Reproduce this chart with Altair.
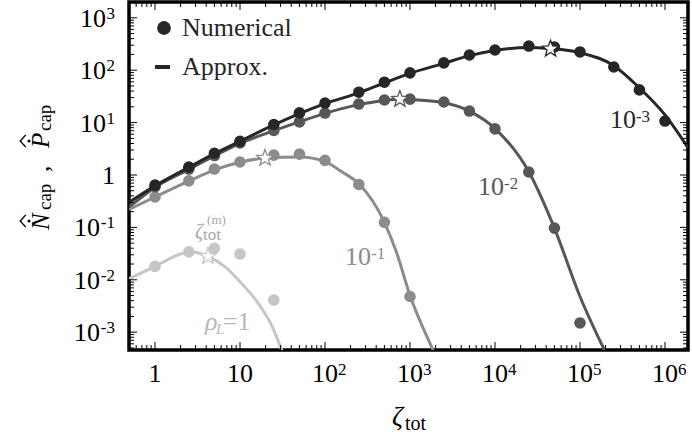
import altair as alt
import pandas as pd

# ---------------- scales / layout ----------------
XMIN, XMAX = 0.4944, 1.865e6
YMIN, YMAX = 4.57e-4, 2002
W, H = 559, 348
FONT = "Liberation Serif"

COL = {"r3": "#262626", "r2": "#575757", "r1": "#8c8c8c", "r0": "#c6c6c6"}
STAR_PATH = ("M0,-1L0.247,-0.34L0.951,-0.309L0.399,0.13L0.588,0.809L0,0.42"
             "L-0.588,0.809L-0.399,0.13L-0.951,-0.309L-0.247,-0.34Z")
HAT_PATH = "M0.45,-1L-0.45,0L0.45,1"

# ---------------- data: numerical points ----------------
x_num = [1, 2.5, 5, 10, 25, 50, 100, 250, 500, 1000, 2500, 5000,
         1e4, 2.5e4, 5e4, 1e5, 2.5e5, 5e5, 1e6]
num_r3 = [0.64, 1.42, 2.6, 4.4, 9.2, 15.3, 23.6, 38, 59, 89, 138, 195,
          243, 289, 277, 223, 115, 42, 10.7]
num_r2 = [0.60, 1.30, 2.35, 4.1, 7.1, 10.3, 15.2, 22.6, 27, 28, 24.7, 16.6,
          7.6, 1.14, 0.097, 0.0015]
num_r1 = [0.38, 0.77, 1.3, 1.77, 2.4, 2.5, 1.9, 0.66, 0.125, 0.0048]
num_r0 = [0.018, 0.034, 0.040, 0.031, 0.0041]

# ---------------- data: approximation curves ----------------
cx_r3 = [0.4944, 1, 2.5, 5, 10, 25, 50, 100, 250, 500, 1000, 2500, 5000,
         1e4, 2.5e4, 4.5e4, 1e5, 2.5e5, 5e5, 1e6, 1.865e6]
cy_r3 = [0.30, 0.62, 1.40, 2.55, 4.4, 9.0, 14.8, 23, 37, 57, 87, 135, 190,
         238, 272, 258, 215, 122, 46, 14, 3.3]
cx_r2 = [0.4944, 1, 2.5, 5, 10, 25, 50, 100, 250, 500, 760, 1000, 2500, 5000,
         1e4, 2.5e4, 5e4, 1e5, 2.1e5]
cy_r2 = [0.245, 0.58, 1.28, 2.3, 4.0, 7.0, 10.3, 15, 22, 26.5, 28, 27.5, 24, 16.6,
         7.7, 1.15, 0.097, 0.0048, 0.00035]
cx_r1 = [0.4944, 1, 2.5, 5, 10, 19.7, 50, 100, 158, 250, 500, 700, 1000, 1870, 2000]
cy_r1 = [0.22, 0.38, 0.76, 1.25, 1.75, 2.1, 2.2, 1.8, 1.15, 0.68, 0.125, 0.032,
         0.005, 0.00045, 0.00035]
cx_r0 = [0.4944, 1, 2, 2.8, 4.2, 6.7, 10, 16.3, 23.8, 31, 34]
cy_r0 = [0.0105, 0.018, 0.031, 0.034, 0.028, 0.0176, 0.0092, 0.0036, 0.0013,
         0.00045, 0.0003]

# ---------------- data: optimum markers (stars) ----------------
star_x = [4.5e4, 760, 19.7, 4.2]
star_y = [255, 28, 2.1, 0.028]
star_s = ["r3", "r2", "r1", "r0"]

# ---------------- tick labels ----------------
xt_vals = [1, 10, 100, 1e3, 1e4, 1e5, 1e6]
xt_base = ["1", "10", "10", "10", "10", "10", "10"]
xt_exp = ["", "", "2", "3", "4", "5", "6"]

yt_pos_vals = [10, 100, 1000]
yt_pos_exp = ["1", "2", "3"]
yt_neg_vals = [1e-3, 1e-2, 1e-1]
yt_neg_exp = ["-3", "-2", "-1"]
yt_one_vals = [1]

x_major = [1, 10, 100, 1e3, 1e4, 1e5, 1e6]
x_minor = [m * 10.0 ** k for k in range(-1, 7) for m in range(2, 10)
           if XMIN <= m * 10.0 ** k <= XMAX]
y_major = [1e-3, 1e-2, 1e-1, 1, 10, 100, 1000]
y_minor = [m * 10.0 ** k for k in range(-4, 4) for m in range(2, 10)
           if YMIN <= m * 10.0 ** k <= YMAX]

XS = alt.Scale(type="log", domain=[XMIN, XMAX])
YS = alt.Scale(type="log", domain=[YMIN, YMAX])


def X(f="x"):
    return alt.X(f"{f}:Q", scale=XS, axis=None)


def Y(f="y"):
    return alt.Y(f"{f}:Q", scale=YS, axis=None)


layers = []

# curves + points, lightest first
for key, cx, cy, ny in [("r0", cx_r0, cy_r0, num_r0), ("r1", cx_r1, cy_r1, num_r1),
                        ("r2", cx_r2, cy_r2, num_r2), ("r3", cx_r3, cy_r3, num_r3)]:
    dline = pd.DataFrame({"x": cx, "y": cy, "o": list(range(len(cx)))})
    layers.append(alt.Chart(dline).mark_line(color=COL[key], strokeWidth=3,
                                             clip=True, interpolate="monotone")
                  .encode(x=X(), y=Y(), order="o:Q"))
    dpt = pd.DataFrame({"x": x_num[:len(ny)], "y": ny})
    layers.append(alt.Chart(dpt).mark_circle(color=COL[key], size=135, opacity=1,
                                             clip=True)
                  .encode(x=X(), y=Y()))

# stars
for sx, sy, s in zip(star_x, star_y, star_s):
    dstar = pd.DataFrame({"x": [sx], "y": [sy]})
    layers.append(alt.Chart(dstar).mark_point(shape=STAR_PATH, filled=True,
                                              fill="white", stroke=COL[s],
                                              size=300, strokeWidth=1.3, opacity=1)
                  .encode(x=X(), y=Y()))

# ---------------- inward ticks on all four sides ----------------
for vals, ln in [(x_major, 8), (x_minor, 5)]:
    d = pd.DataFrame({"v": vals})
    layers.append(alt.Chart(d).mark_rule(color="black", strokeWidth=1)
                  .encode(x=X("v"), y=alt.value(H), y2=alt.value(H - ln)))
    layers.append(alt.Chart(d).mark_rule(color="black", strokeWidth=1)
                  .encode(x=X("v"), y=alt.value(0), y2=alt.value(ln)))
for vals, ln in [(y_major, 8), (y_minor, 5)]:
    d = pd.DataFrame({"v": vals})
    layers.append(alt.Chart(d).mark_rule(color="black", strokeWidth=1)
                  .encode(y=Y("v"), x=alt.value(0), x2=alt.value(ln)))
    layers.append(alt.Chart(d).mark_rule(color="black", strokeWidth=1)
                  .encode(y=Y("v"), x=alt.value(W), x2=alt.value(W - ln)))

# ---------------- tick labels ----------------
dxl = pd.DataFrame({"v": xt_vals, "b": xt_base, "e": xt_exp})
layers.append(alt.Chart(dxl).mark_text(font=FONT, fontSize=26, align="center",
                                       baseline="alphabetic", color="black")
              .encode(x=X("v"), y=alt.value(H + 32), text="b:N"))
layers.append(alt.Chart(dxl).mark_text(font=FONT, fontSize=17, align="left",
                                       baseline="alphabetic", color="black",
                                       dx=13, dy=-7)
              .encode(x=X("v"), y=alt.value(H + 32), text="e:N"))

for vals, exps, bx in [(yt_pos_vals, yt_pos_exp, -23), (yt_neg_vals, yt_neg_exp, -29)]:
    d = pd.DataFrame({"v": vals, "b": ["10"] * len(vals), "e": exps})
    layers.append(alt.Chart(d).mark_text(font=FONT, fontSize=26, align="right",
                                         baseline="alphabetic", color="black", dy=9)
                  .encode(y=Y("v"), x=alt.value(bx), text="b:N"))
    layers.append(alt.Chart(d).mark_text(font=FONT, fontSize=17, align="right",
                                         baseline="alphabetic", color="black", dy=1)
                  .encode(y=Y("v"), x=alt.value(-14), text="e:N"))
d1 = pd.DataFrame({"v": yt_one_vals, "b": ["1"]})
layers.append(alt.Chart(d1).mark_text(font=FONT, fontSize=26, align="right",
                                      baseline="alphabetic", color="black", dy=9)
              .encode(y=Y("v"), x=alt.value(-14), text="b:N"))

# ---------------- in-plot annotations ----------------
ann = [("r3", 2.25e5, 7.89, "-3"), ("r2", 6310, 0.415, "-2"), ("r1", 172, 0.0192, "-1")]
for key, ax, ay, ex in ann:
    d = pd.DataFrame({"x": [ax], "y": [ay], "b": ["10"], "e": [ex]})
    layers.append(alt.Chart(d).mark_text(font=FONT, fontSize=26, align="left",
                                         baseline="alphabetic", color=COL[key])
                  .encode(x=X(), y=Y(), text="b:N"))
    layers.append(alt.Chart(d).mark_text(font=FONT, fontSize=17, align="left",
                                         baseline="alphabetic", color=COL[key],
                                         dx=26, dy=-6)
                  .encode(x=X(), y=Y(), text="e:N"))

RHO_C = "#b8b8b8"
drho = pd.DataFrame({"x": [3.87], "y": [0.0011]})
for txt, fs, sty, dx, dy in [("\u03c1", 26, "italic", 0, 0), ("L", 15, "italic", 11, 4),
                             ("=1", 26, "normal", 18, 0)]:
    layers.append(alt.Chart(drho).mark_text(font=FONT, fontSize=fs, fontStyle=sty,
                                            align="left", baseline="alphabetic",
                                            color=RHO_C, dx=dx, dy=dy, text=txt)
                  .encode(x=X(), y=Y()))

ZC = "#a8a8a8"
dz = pd.DataFrame({"x": [2.96], "y": [0.0576]})
for txt, fs, sty, dx, dy in [("\u03b6", 20, "italic", 0, -2), ("tot", 17, "normal", 8, 0),
                             ("(m)", 13, "normal", 12, -16)]:
    layers.append(alt.Chart(dz).mark_text(font=FONT, fontSize=fs, fontStyle=sty,
                                          align="left", baseline="alphabetic",
                                          color=ZC, dx=dx, dy=dy, text=txt)
                  .encode(x=X(), y=Y()))

# ---------------- legend ----------------
one = pd.DataFrame({"a": [0]})
layers.append(alt.Chart(one).mark_point(shape="circle", filled=True, color="#262626",
                                        size=190, opacity=1)
              .encode(x=alt.value(35), y=alt.value(26)))
layers.append(alt.Chart(one).mark_rule(color="#262626", strokeWidth=4)
              .encode(x=alt.value(26), x2=alt.value(41), y=alt.value(65)))
for txt, yy in [("Numerical", 34), ("Approx.", 73)]:
    layers.append(alt.Chart(one).mark_text(font=FONT, fontSize=26, align="left",
                                           baseline="alphabetic", color="#262626",
                                           text=txt)
                  .encode(x=alt.value(53), y=alt.value(yy)))

# ---------------- axis titles ----------------
layers.append(alt.Chart(one).mark_text(font=FONT, fontSize=27, fontStyle="italic",
                                       align="left", baseline="alphabetic",
                                       color="black", text="\u03b6")
              .encode(x=alt.value(263), y=alt.value(H + 75)))
layers.append(alt.Chart(one).mark_text(font=FONT, fontSize=20, align="left",
                                       baseline="alphabetic", color="black", text="tot")
              .encode(x=alt.value(276), y=alt.value(H + 80)))

for txt, fs, sty, xx, yy in [("N", 25, "italic", -80, 228), ("cap", 19, "normal", -78, 208),
                             (",", 25, "normal", -80, 170), ("P", 25, "italic", -80, 146),
                             ("cap", 19, "normal", -78, 129)]:
    layers.append(alt.Chart(one).mark_text(font=FONT, fontSize=fs, fontStyle=sty,
                                           align="left", baseline="alphabetic",
                                           angle=270, color="black", text=txt)
                  .encode(x=alt.value(xx), y=alt.value(yy)))
for yy in [219, 139]:
    layers.append(alt.Chart(one).mark_point(shape="circle", filled=True, color="black",
                                            size=9, opacity=1)
                  .encode(x=alt.value(-100), y=alt.value(yy)))
    layers.append(alt.Chart(one).mark_point(shape=HAT_PATH,
                                            filled=False, color="black", size=150,
                                            strokeWidth=1.4, opacity=1)
                  .encode(x=alt.value(-106), y=alt.value(yy)))

chart = alt.layer(*layers).properties(
    width=W, height=H,
    padding={"left": 129, "top": 2, "right": 4, "bottom": 89},
    autosize=alt.AutoSizeParams(type="none"),
    background="white",
).configure_view(stroke="black", strokeWidth=3.5)

chart.save("out.html", embed_options={"renderer": "svg", "actions": False})
